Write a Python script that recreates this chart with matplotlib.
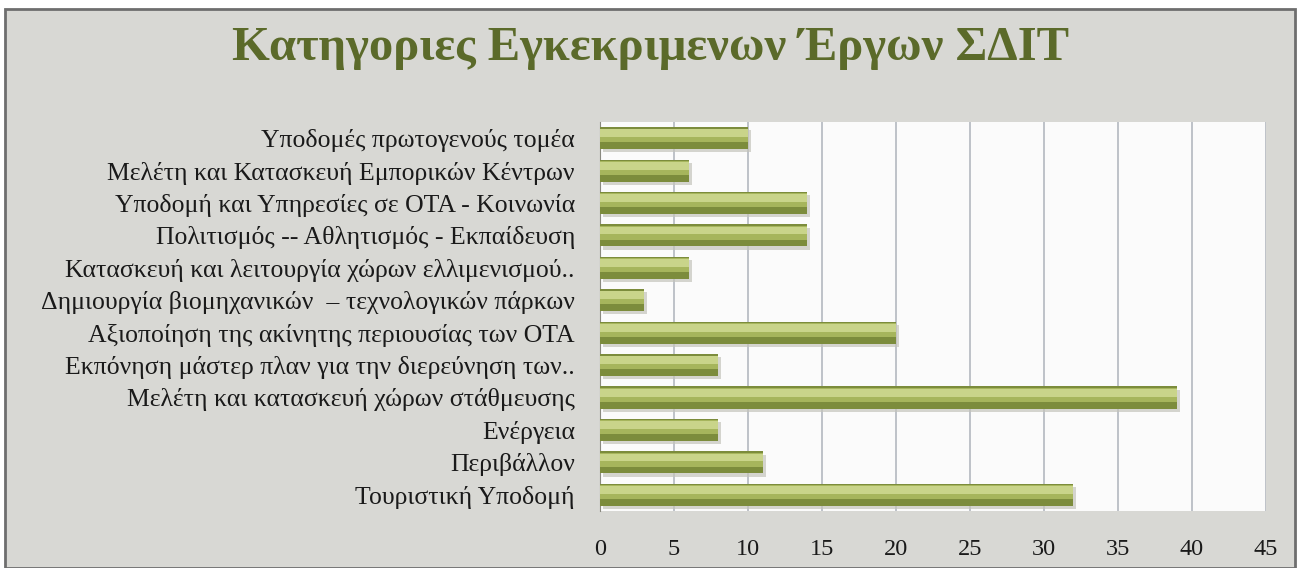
import numpy as np
import matplotlib.pyplot as plt
from matplotlib.patches import Rectangle

# categories, top to bottom as in the picture
categories = [
    'Υποδομές πρωτογενούς τομέα',
    'Μελέτη και Κατασκευή Εμπορικών Κέντρων',
    'Υποδομή και Υπηρεσίες σε ΟΤΑ - Κοινωνία',
    'Πολιτισμός -- Αθλητισμός - Εκπαίδευση',
    'Κατασκευή και λειτουργία χώρων ελλιμενισμού..',
    'Δημιουργία βιομηχανικών  – τεχνολογικών πάρκων',
    'Αξιοποίηση της ακίνητης περιουσίας των ΟΤΑ',
    'Εκπόνηση μάστερ πλαν για την διερεύνηση των..',
    'Μελέτη και κατασκευή χώρων στάθμευσης',
    'Ενέργεια',
    'Περιβάλλον',
    'Τουριστική Υποδομή',
]
values = [10, 6, 14, 14, 6, 3, 20, 8, 39, 8, 11, 32]
xticks = [0, 5, 10, 15, 20, 25, 30, 35, 40, 45]
title = 'Κατηγοριες Εγκεκριμενων Έργων ΣΔΙΤ'

plt.rcParams['font.family'] = ['Liberation Serif', 'DejaVu Serif']

fig = plt.figure(figsize=(13, 5.68), dpi=100, facecolor='white')

# grey panel behind the chart
panel = Rectangle((0.004, 0.0), 0.992, 0.985, transform=fig.transFigure,
                  facecolor='#d8d8d4', edgecolor='#6e6e6e', linewidth=2, zorder=-10)
fig.patches.append(panel)

ax = fig.add_axes([0.4615, 0.1004, 0.512, 0.685])
ax.set_zorder(1)
ax.set_facecolor('#fbfbfb')

y = np.arange(len(categories))
h = 0.68
# shadow, dark base and lighter upper layers to imitate the 3D bars
ax.barh(y + 0.1, values, height=h, left=0.2, color='#c4c4bc', alpha=0.7, zorder=2)
ax.barh(y, values, height=h, color='#7c8c3c', zorder=3)
ax.barh(y - h * 0.12, values, height=h * 0.62, color='#a6b55c', zorder=4)
ax.barh(y - h * 0.22, values, height=h * 0.36, color='#c9d48a', zorder=5)

ax.set_xlim(0, 45)
ax.set_ylim(len(categories) - 0.5, -0.5)
ax.set_xticks(xticks)
ax.set_yticks(y)
ax.set_yticklabels(categories, fontsize=18.5, color='#1a1a1a')
ax.tick_params(axis='y', length=0, pad=18)
ax.tick_params(axis='x', length=0, pad=20, labelsize=17.5, labelcolor='#1a1a1a')
ax.grid(axis='x', color='#b4b8c0', linewidth=1.2)
ax.set_axisbelow(True)
for s in ['top', 'right', 'bottom']:
    ax.spines[s].set_visible(False)
ax.spines['left'].set_color('#8a8a80')

fig.text(0.5, 0.915, title, ha='center', va='center', fontsize=35,
         fontweight='bold', color='#5b6a2a')

fig.savefig('out.png', dpi=100, facecolor=fig.get_facecolor())
